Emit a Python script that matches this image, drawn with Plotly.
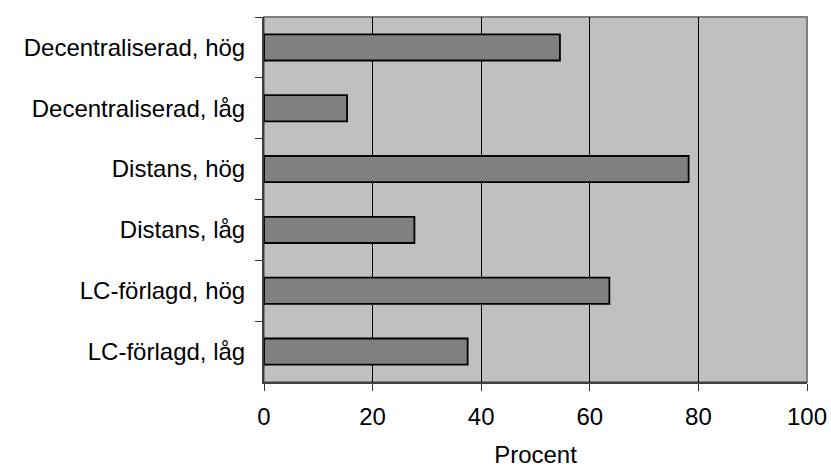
import plotly.graph_objects as go

categories = ["Decentraliserad, hög", "Decentraliserad, låg", "Distans, hög",
              "Distans, låg", "LC-förlagd, hög", "LC-förlagd, låg"]
values = [54.5, 15.3, 78.2, 27.7, 63.6, 37.5]
x_ticks = [0, 20, 40, 60, 80, 100]

fig = go.Figure(go.Bar(
    y=categories, x=values, orientation="h",
    marker=dict(color="#808080", line=dict(color="#000000", width=1.8)),
    width=0.43,
))

font = dict(family="Liberation Sans, Arial, sans-serif", size=24, color="#000000")

fig.update_layout(
    width=831, height=472,
    margin=dict(l=264, r=24, t=17, b=90),
    paper_bgcolor="#ffffff", plot_bgcolor="#c0c0c0",
    font=font, showlegend=False,
    xaxis=dict(range=[0, 100], tickvals=x_ticks, ticks="outside", ticklen=7,
               tickcolor="#333333", showgrid=True, gridcolor="#000000", gridwidth=1,
               showline=True, linecolor="#404040", linewidth=2, mirror=False,
               zeroline=False, title=dict(text="Procent", font=font, standoff=17),
               tickfont=font, automargin=False, ticklabelstandoff=5),
    yaxis=dict(autorange="reversed", type="category", ticks="outside", ticklen=7,
               tickson="boundaries", tickcolor="#333333",
               showline=True, linecolor="#404040", linewidth=2,
               showgrid=False, tickfont=font, ticklabelstandoff=12, automargin=False),
    shapes=[dict(type="rect", xref="paper", yref="paper", x0=0, x1=1, y0=0, y1=1,
                 line=dict(color="#808080", width=2), fillcolor="rgba(0,0,0,0)",
                 layer="below")],
)

fig.write_html("out.html", config={"displayModeBar": False},
               post_script="document.body.style.margin='0px';")
